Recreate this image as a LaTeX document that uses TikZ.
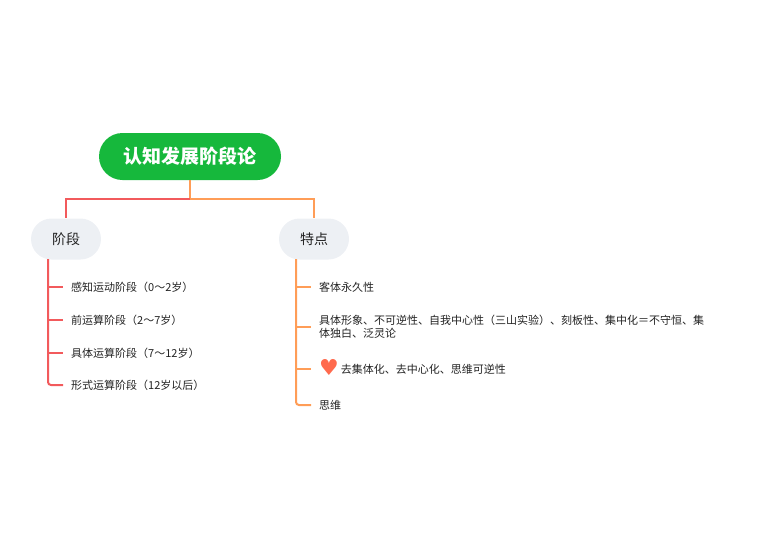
\documentclass[tikz,border=0pt]{standalone}
\usepackage{fontspec}
\setmainfont{Noto Sans CJK SC}
\newfontfamily\symfont{DejaVu Sans}
\usepackage{tikz}
\definecolor{rootgreen}{HTML}{16B83C}
\definecolor{chipgray}{HTML}{EDF0F4}
\definecolor{linered}{HTML}{F25A5C}
\definecolor{lineorange}{HTML}{FF9D57}
\definecolor{inkgray}{HTML}{222222}
\definecolor{heartred}{HTML}{FF6A4D}
\tikzset{
    rootbox/.style={fill=rootgreen, text=white, font=\fontsize{19}{22}\selectfont\bfseries,
        minimum width=182, minimum height=47, rounded corners=23.5},
    chipbox/.style={fill=chipgray, text=inkgray, font=\fontsize{14}{17}\selectfont,
        minimum width=70, minimum height=41, rounded corners=20.5},
    leafbox/.style={anchor=west, text=inkgray, font=\fontsize{11}{13.5}\selectfont,
        inner xsep=8, inner ysep=2, align=left},
    wire/.style={line width=2}
}

\begin{document}
\begin{tikzpicture}[x=1pt, y=-1pt]
    \useasboundingbox (0, 0) rectangle (771, 552);

    % main topic and the two branches
    \node [rootbox] (root) at (190, 156.5) {认知发展阶段论};
    \node [chipbox] (stage) at (66, 239) {阶段};
    \node [chipbox] (feature) at (314, 239) {特点};
    \coordinate (fork) at (190, 199);

    \draw [wire, lineorange] (root.south) -- (fork) -| (feature.north);
    \draw [wire, linered] (fork) -| (stage.north);

    % stages
    \coordinate (stagespine) at (48, 259);
    \node [leafbox] (s1) at (63, 287) {感知运动阶段（0～2岁）};
    \node [leafbox] (s2) at (63, 320) {前运算阶段（2～7岁）};
    \node [leafbox] (s3) at (63, 353) {具体运算阶段（7～12岁）};
    \node [leafbox] (s4) at (63, 385) {形式运算阶段（12岁以后）};

    \draw [wire, linered] (stagespine) |- (s1.west);
    \draw [wire, linered] (stagespine) |- (s2.west);
    \draw [wire, linered] (stagespine) |- (s3.west);
    \draw [wire, linered, rounded corners=3] (stagespine) |- (s4.west);

    % features
    \coordinate (featurespine) at (296, 259);
    \node [leafbox] (f1) at (311, 287) {客体永久性};
    \node [leafbox] (f2) at (311, 327) {具体形象、不可逆性、自我中心性（三山实验）、刻板性、集中化＝不守恒、集\\体独白、泛灵论};
    \node [leafbox] (f3) at (311, 369) {\smash{\raisebox{-2pt}{\color{heartred}\symfont\fontsize{22}{22}\selectfont ♥}}\hspace{2pt}去集体化、去中心化、思维可逆性};
    \node [leafbox] (f4) at (311, 405) {思维};

    \draw [wire, lineorange] (featurespine) |- (f1.west);
    \draw [wire, lineorange] (featurespine) |- (f2.west);
    \draw [wire, lineorange] (featurespine) |- (f3.west);
    \draw [wire, lineorange, rounded corners=3] (featurespine) |- (f4.west);
\end{tikzpicture}
\end{document}
